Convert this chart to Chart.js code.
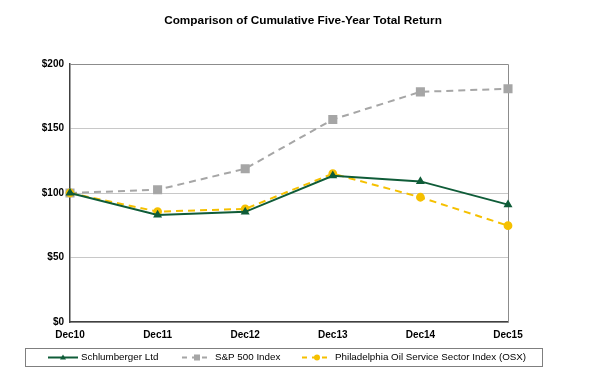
<!DOCTYPE html>
<html>
<head>
<meta charset="utf-8">
<script src="https://cdn.jsdelivr.net/npm/chart.js@4/dist/chart.umd.min.js"></script>
<style>
  html, body { margin: 0; padding: 0; background: #fff; }
  #wrap { width: 594px; height: 375px; }
</style>
</head>
<body>
<div id="wrap"><canvas id="returnChart" width="594" height="375"></canvas></div>
<script>
// Chart data
const years = ['Dec10', 'Dec11', 'Dec12', 'Dec13', 'Dec14', 'Dec15'];
const slbValues = [100, 83, 85.4, 113.4, 109, 91];
const spxValues = [100, 102.5, 118.8, 157, 178.4, 180.8];
const osxValues = [100, 85.6, 87.7, 115, 96.7, 74.7];
const yTicks = [0, 50, 100, 150, 200];

const FONT = 'Arial, "Liberation Sans", sans-serif';
const TITLE = 'Comparison of Cumulative Five-Year Total Return';

// Title sits a bit right of the plot centre in the original, so draw it here
const chartTitle = {
    id: 'chartTitle',
    afterDraw(chart) {
        const ctx = chart.ctx;
        ctx.save();
        ctx.fillStyle = '#000';
        ctx.font = 'bold 11.8px ' + FONT;
        ctx.textAlign = 'center';
        ctx.textBaseline = 'middle';
        ctx.fillText(TITLE, 303, 21);
        ctx.restore();
    }
};

// Bordered legend below the plot, like the Excel original
const boxLegend = {
    id: 'boxLegend',
    afterDraw(chart) {
        const ctx = chart.ctx;
        const left = 25, top = 348, width = 517, height = 18;
        ctx.save();
        ctx.strokeStyle = '#7f7f7f';
        ctx.lineWidth = 1;
        ctx.strokeRect(left + 0.5, top + 0.5, width, height);

        const midY = top + height / 2 + 0.5;
        const items = [48, 182, 302];
        chart.data.datasets.forEach((ds, i) => {
            const x0 = items[i];
            ctx.strokeStyle = ds.borderColor;
            ctx.lineWidth = 2;
            ctx.setLineDash(ds.borderDash ? [5, 5] : []);
            ctx.beginPath();
            ctx.moveTo(x0, midY);
            ctx.lineTo(x0 + 30, midY);
            ctx.stroke();
            ctx.setLineDash([]);
            ctx.fillStyle = ds.pointBackgroundColor;
            const cx = x0 + 15;
            if (ds.pointStyle === 'triangle') {
                ctx.beginPath();
                ctx.moveTo(cx, midY - 3);
                ctx.lineTo(cx + 3, midY + 2);
                ctx.lineTo(cx - 3, midY + 2);
                ctx.closePath();
                ctx.fill();
            } else if (ds.pointStyle === 'rect') {
                ctx.fillRect(cx - 3, midY - 3, 6, 6);
            } else {
                ctx.beginPath();
                ctx.arc(cx, midY, 3, 0, Math.PI * 2);
                ctx.fill();
            }
            ctx.fillStyle = '#000';
            ctx.font = '9.8px ' + FONT;
            ctx.textBaseline = 'middle';
            ctx.fillText(ds.label, x0 + 33, midY);
        });
        ctx.restore();
    }
};

// Gray frame on the top and right edges of the plot area
const plotFrame = {
    id: 'plotFrame',
    beforeDatasetsDraw(chart) {
        const a = chart.chartArea;
        const ctx = chart.ctx;
        ctx.save();
        ctx.strokeStyle = '#8c8c8c';
        ctx.lineWidth = 1;
        ctx.beginPath();
        ctx.moveTo(a.left, a.top + 0.5);
        ctx.lineTo(a.right + 0.5, a.top + 0.5);
        ctx.lineTo(a.right + 0.5, a.bottom);
        ctx.stroke();
        ctx.restore();
    }
};

new Chart(document.getElementById('returnChart'), {
    type: 'line',
    data: {
        labels: years,
        datasets: [
            {
                label: 'Schlumberger Ltd',
                data: slbValues,
                borderColor: '#0f5c38',
                backgroundColor: '#0f5c38',
                pointBackgroundColor: '#0f5c38',
                pointBorderColor: '#0f5c38',
                pointStyle: 'triangle',
                pointRadius: 3.2,
                borderWidth: 2,
                tension: 0,
                order: 1
            },
            {
                label: 'S&P 500 Index',
                data: spxValues,
                borderColor: '#a6a6a6',
                backgroundColor: '#a6a6a6',
                pointBackgroundColor: '#a6a6a6',
                pointBorderColor: '#a6a6a6',
                pointStyle: 'rect',
                pointRadius: 5,
                borderWidth: 2,
                borderDash: [7, 5],
                tension: 0,
                order: 3
            },
            {
                label: 'Philadelphia Oil Service Sector Index (OSX)',
                data: osxValues,
                borderColor: '#f5c000',
                backgroundColor: '#f5c000',
                pointBackgroundColor: '#f5c000',
                pointBorderColor: '#f5c000',
                pointStyle: 'circle',
                pointRadius: 3.4,
                borderWidth: 2,
                borderDash: [7, 5],
                tension: 0,
                order: 2
            }
        ]
    },
    options: {
        responsive: false,
        animation: false,
        layout: { padding: { left: 10, right: 86, top: 64, bottom: 27 } },
        plugins: {
            legend: { display: false },
            tooltip: { enabled: false },
            title: { display: false }
        },
        scales: {
            x: {
                offset: false,
                grid: { display: false, drawTicks: false },
                border: { color: '#404040', width: 1.5 },
                ticks: {
                    color: '#000',
                    padding: 7,
                    maxRotation: 0,
                    font: { family: FONT, size: 10, weight: 'bold' }
                }
            },
            y: {
                min: 0,
                max: 200,
                afterFit(scale) { scale.width = 60; },
                afterBuildTicks(scale) { scale.ticks = yTicks.map(v => ({ value: v })); },
                grid: { color: '#c8c8c8', lineWidth: 1, drawTicks: false },
                border: { color: '#404040', width: 1.5 },
                ticks: {
                    color: '#000',
                    padding: 6,
                    font: { family: FONT, size: 10, weight: 'bold' },
                    callback: v => '$' + v
                }
            }
        }
    },
    plugins: [plotFrame, chartTitle, boxLegend]
});
</script>
</body>
</html>
